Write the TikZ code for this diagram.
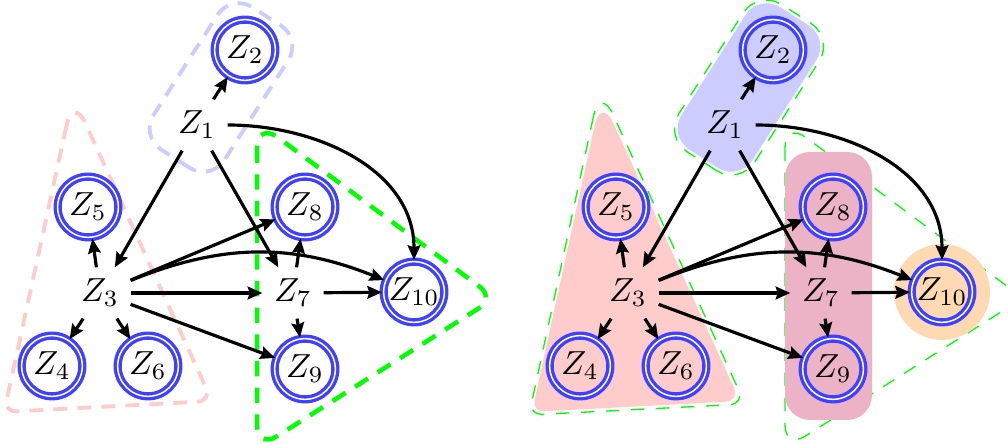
\documentclass[tikz,border=0pt]{standalone}
\usetikzlibrary{arrows.meta,calc}

\tikzset{
  obs/.style={circle, draw=blue!75, double=white, line width=1pt,
              double distance=0.45pt, minimum size=18.2pt, inner sep=0pt},
  hid/.style={inner sep=3.33pt},
  link/.style={line width=0.95pt, -{Stealth[length=4.4pt,width=3.8pt,inset=0.6pt]}},
  hullline/.style={line width=1.15pt, dash pattern=on 4.2pt off 3pt},
  thinhull/.style={green, line width=0.4pt, dash pattern=on 4pt off 3.5pt},
}

% one rounded corner at vertex #2 (coming from #1, going to #3), tangent distance #4
\newcommand\rcorner[4]{-- ($(#2)!#4!(#1)$) .. controls ($(#2)!#4*0.45!(#1)$) and ($(#2)!#4*0.45!(#3)$) .. ($(#2)!#4!(#3)$)}
% triangle with individually rounded corners
\newcommand\tripath[6]{($(#1)!#4!(#2)$) \rcorner{#1}{#2}{#3}{#5} \rcorner{#2}{#3}{#1}{#6} \rcorner{#3}{#1}{#2}{#4} -- cycle}

% the network; #1 is a prefix for the node names
\newcommand\graphbody[1]{%
  \node[hid] (#1z1)  at (197,319) {$Z_1$};
  \node[obs] (#1z2)  at (245,394) {$Z_2$};
  \node[hid] (#1z3)  at (100,151) {$Z_3$};
  \node[obs] (#1z4)  at (52,78)   {$Z_4$};
  \node[obs] (#1z5)  at (88,237)  {$Z_5$};
  \node[obs] (#1z6)  at (148,78)  {$Z_6$};
  \node[hid] (#1z7)  at (293,151) {$Z_7$};
  \node[obs] (#1z8)  at (305,237) {$Z_8$};
  \node[obs] (#1z9)  at (305,75)  {$Z_9$};
  \node[obs] (#1z10) at (414,152) {$Z_{10}$};
  \draw[link] (#1z1) -- (#1z2);
  \draw[link] (#1z1) -- (#1z3);
  \draw[link] (#1z1) -- (#1z7);
  \draw[link] (#1z1) to[out=0,in=90] (#1z10);
  \draw[link] (#1z3) -- (#1z5);
  \draw[link] (#1z3) -- (#1z4);
  \draw[link] (#1z3) -- (#1z6);
  \draw[link] (#1z3) -- (#1z8);
  \draw[link] (#1z3) to[bend left=22] (#1z10);
  \draw[link] (#1z3) -- (#1z7);
  \draw[link] (#1z3) -- (#1z9);
  \draw[link] (#1z7) -- (#1z8);
  \draw[link] (#1z7) -- (#1z9);
  \draw[link] (#1z7) -- (#1z10);
}

\begin{document}
\begin{tikzpicture}[x=0.3pt,y=0.3pt]
\useasboundingbox (0,0) rectangle (1008,444);
\clip (0,0) rectangle (1008,444);

% ---------- left: dashed groups ----------
\begin{scope}[shift={(197,319)},rotate=57.4]
  \draw[hullline, blue!20, rounded corners=7.5pt] (-40,-42) rectangle (129,42);
\end{scope}
\coordinate (La) at (73,348);
\coordinate (Lb) at (4,32);
\coordinate (Lc) at (212,43);
\draw[hullline, red!20] \tripath{La}{Lb}{Lc}{9pt}{3.6pt}{4.4pt};
\coordinate (Lp) at (257,322);
\coordinate (Lq) at (257,-5);
\coordinate (Lr) at (495,146);
\draw[hullline, green, line width=1.35pt, dash pattern=on 4.6pt off 3.4pt]
  \tripath{Lp}{Lq}{Lr}{7.7pt}{7.1pt}{5.7pt};
\graphbody{L}

% ---------- right: filled groups ----------
\begin{scope}[shift={(528,0)}]
  % thin outlines
  \begin{scope}[shift={(197,319)},rotate=57.4]
    \draw[thinhull, rounded corners=8.3pt] (-43,-45) rectangle (132,45);
  \end{scope}
  \coordinate (Ra') at (72,358);
  \coordinate (Rb') at (1,29);
  \coordinate (Rc') at (217,40);
  \draw[thinhull] \tripath{Ra'}{Rb'}{Rc'}{9.4pt}{3.8pt}{4.6pt};
  \coordinate (Rp) at (257,322);
  \coordinate (Rq) at (257,-5);
  \coordinate (Rr) at (495,146);
  \draw[thinhull] \tripath{Rp}{Rq}{Rr}{7.7pt}{7.1pt}{5.7pt};
  % fills
  \begin{scope}[shift={(197,319)},rotate=57.4]
    \fill[blue!20, rounded corners=7.5pt] (-40,-42) rectangle (129,42);
  \end{scope}
  \coordinate (Ra) at (73,348);
  \coordinate (Rb) at (4,32);
  \coordinate (Rc) at (212,43);
  \fill[red!20] \tripath{Ra}{Rb}{Rc}{9pt}{3.6pt}{4.4pt};
  \fill[purple!30, rounded corners=7.5pt] (257,24) rectangle (344,292);
  \fill[orange!30] (414,152) circle[radius=14.4pt];
  \graphbody{R}
\end{scope}
\end{tikzpicture}
\end{document}
